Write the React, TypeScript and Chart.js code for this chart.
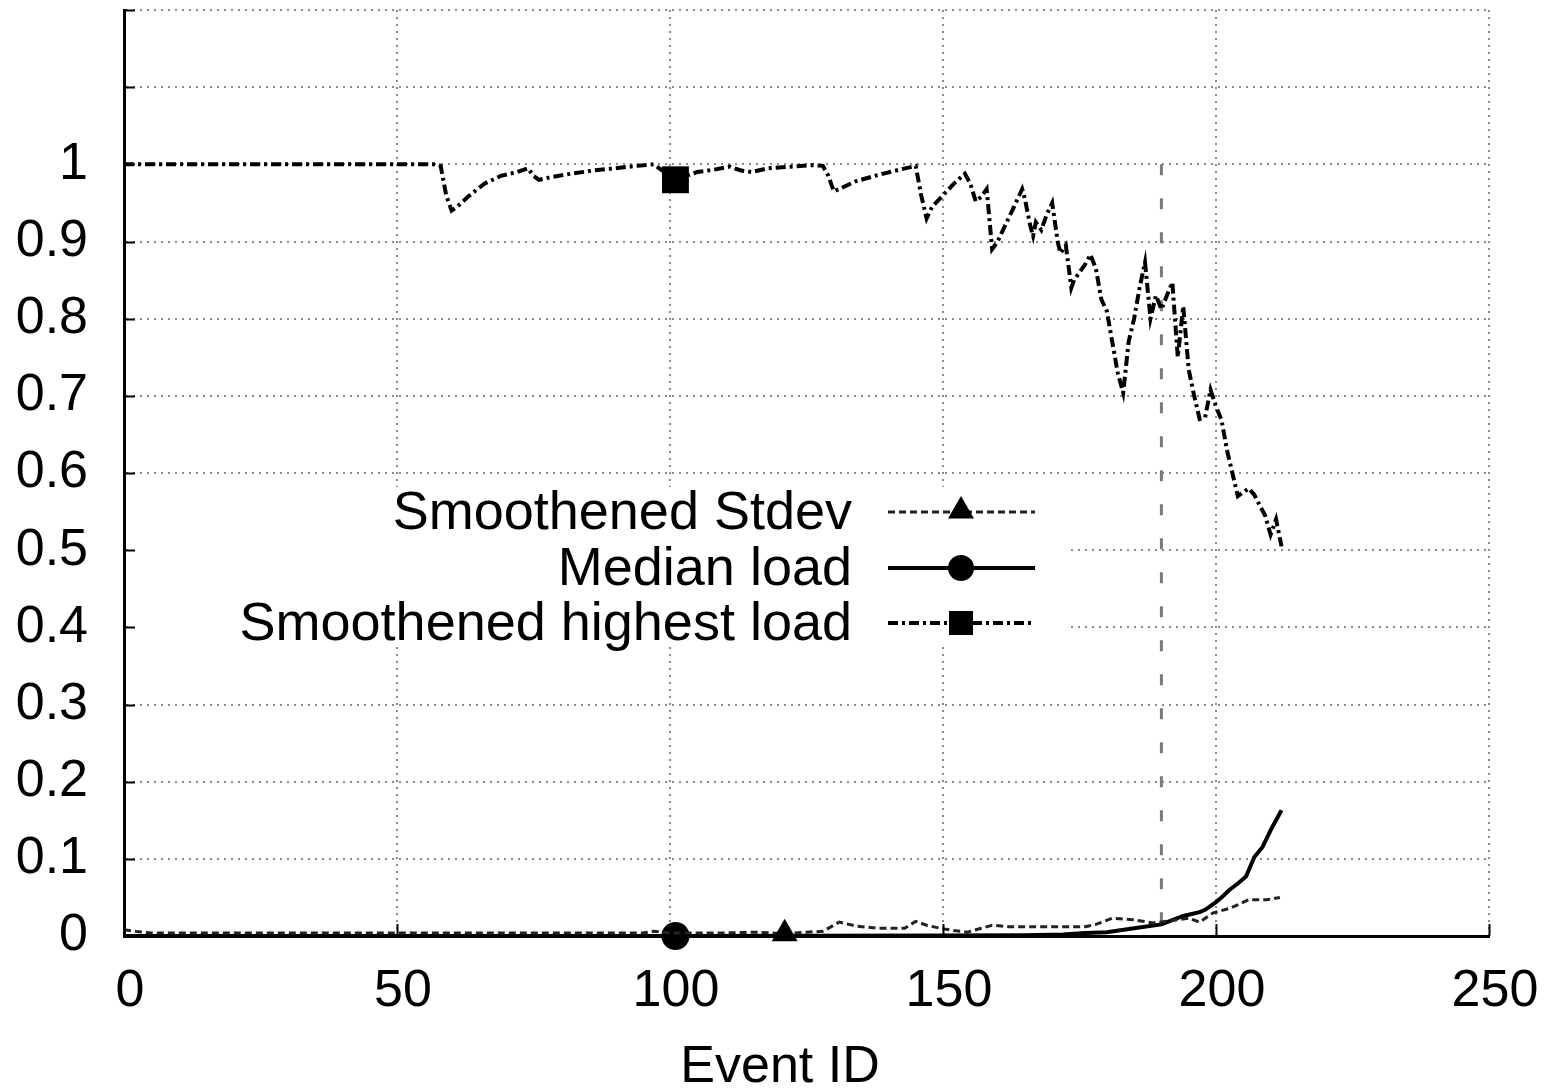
import React, { useEffect, useRef } from "react";
import { Chart, registerables } from "chart.js";

Chart.register(...registerables);

// ---- data ----
const seriesLabels = ["Smoothened Stdev", "Median load", "Smoothened highest load"];
const xAxisTitle = "Event ID";
const xTickValues = [0, 50, 100, 150, 200, 250];
const yTickMaxLabelled = 1;

const stdevLoad: [number, number][] = [
  [0, 0.008], [2, 0.006], [5, 0.004], [10, 0.004], [30, 0.004], [60, 0.004], [80, 0.004],
  [95, 0.004], [97, 0.006], [100, 0.004], [110, 0.004], [116, 0.005], [121, 0.003],
  [125, 0.005], [128, 0.006], [130, 0.014], [131, 0.018], [134, 0.013], [138, 0.01],
  [143, 0.01], [145, 0.019], [147, 0.014], [149.5, 0.01], [152, 0.007], [154.5, 0.005],
  [157, 0.01], [159, 0.014], [162, 0.012], [166.5, 0.012], [170, 0.012], [176, 0.012],
  [178, 0.015], [181, 0.023], [184.8, 0.021], [188.5, 0.017], [192, 0.02], [195, 0.023],
  [197, 0.018], [199.5, 0.03], [202.6, 0.036], [206, 0.047], [209.3, 0.047], [211.7, 0.05],
];
const stdevMarkerX = 121;

const medianLoad: [number, number][] = [
  [0, 0], [50, 0], [101, 0], [150, 0.0005], [165, 0.001], [172, 0.002], [176, 0.004],
  [180, 0.005], [185, 0.01], [190, 0.015], [194, 0.026], [197, 0.031], [198, 0.034],
  [200, 0.044], [201, 0.05], [202.5, 0.06], [204, 0.068], [205.5, 0.077], [207, 0.102],
  [208.5, 0.115], [210, 0.137], [211, 0.15], [212, 0.163],
];
const medianMarkerX = 101;

const highestLoad: [number, number][] = [
  [0, 1], [10, 1], [20, 1], [30, 1], [40, 1], [50, 1], [57, 1], [58, 0.998], [59, 0.96],
  [60, 0.94], [61, 0.945], [63, 0.958], [66, 0.975], [69, 0.985], [72, 0.99], [74, 0.995],
  [75, 0.985], [76, 0.98], [78, 0.983], [82, 0.988], [86, 0.992], [90, 0.995], [94, 0.998],
  [97, 1.0], [99, 0.99], [101, 0.98], [103, 0.985], [105, 0.99], [108, 0.993], [111, 0.997],
  [113, 0.992], [115, 0.99], [118, 0.995], [122, 0.997], [126, 0.999], [128, 0.998],
  [129, 0.985], [130, 0.965], [131, 0.968], [134, 0.978], [138, 0.986], [142, 0.993],
  [145, 0.998], [146, 0.96], [147, 0.93], [148, 0.945], [150, 0.96], [152, 0.975],
  [154, 0.988], [155, 0.975], [156, 0.952], [157, 0.958], [158, 0.968], [159, 0.89],
  [160, 0.9], [161, 0.915], [163, 0.945], [164.5, 0.968], [165, 0.955], [166, 0.92],
  [166.5, 0.907], [167, 0.925], [168, 0.915], [169, 0.935], [170, 0.95], [171, 0.9],
  [171.5, 0.885], [172.5, 0.895], [173.5, 0.84], [174, 0.85], [175, 0.86], [176, 0.87],
  [177, 0.883], [178, 0.865], [179, 0.825], [180, 0.81], [181, 0.77], [182, 0.73],
  [183, 0.704], [184, 0.77], [185, 0.8], [186, 0.84], [187, 0.873], [188, 0.8], [189, 0.83],
  [190, 0.812], [191, 0.83], [192, 0.847], [193, 0.75], [194, 0.816], [195, 0.734],
  [196, 0.7], [197, 0.67], [198, 0.672], [199, 0.708], [200, 0.686], [201, 0.669],
  [202, 0.63], [203, 0.6], [204, 0.57], [205, 0.575], [206, 0.58], [207, 0.572],
  [208, 0.558], [209, 0.545], [210, 0.52], [211, 0.54], [212, 0.505],
];
const highestMarkerX = 101;

const eventMarkerLine: [number, number][] = [[190, 1], [190, 0]];

// ---- styles ----
const FONT = '"Liberation Sans", Arial, Helvetica, sans-serif';
const GRID_COLOR = "#8a8a8a";

const toPoints = (arr: [number, number][]) => arr.map(([x, y]) => ({ x, y }));
const markerRadius = (arr: [number, number][], mx: number, r: number) => {
  const idx = arr.findIndex(([x]) => x === mx);
  return (c: any) => (c.dataIndex === idx ? r : 0);
};

function drawMarker(ctx: CanvasRenderingContext2D, style: string, x: number, y: number, r: number) {
  ctx.beginPath();
  if (style === "triangle") {
    ctx.moveTo(x, y - r);
    ctx.lineTo(x + r * 0.866, y + r * 0.5);
    ctx.lineTo(x - r * 0.866, y + r * 0.5);
    ctx.closePath();
  } else if (style === "circle") {
    ctx.arc(x, y, r, 0, Math.PI * 2);
  } else {
    const s = r * Math.SQRT1_2;
    ctx.rect(x - s, y - s, 2 * s, 2 * s);
  }
  ctx.fill();
}

const legendPlugin = {
  id: "gnuLegend",
  afterDatasetsDraw(chart: any) {
    const ctx: CanvasRenderingContext2D = chart.ctx;
    ctx.save();
    ctx.fillStyle = "#ffffff";
    ctx.fillRect(130, 487, 936, 158);
    const rows = [512, 568, 623];
    const textRight = 852;
    const lineX1 = 888;
    const lineX2 = 1035;
    const markX = 961;
    for (let i = 0; i < 3; i++) {
      const ds = chart.data.datasets[i];
      const y = rows[i];
      ctx.fillStyle = "#000";
      ctx.font = `54px ${FONT}`;
      ctx.textAlign = "right";
      ctx.textBaseline = "middle";
      ctx.fillText(ds.label, textRight, y + 2);
      ctx.strokeStyle = ds.borderColor;
      ctx.lineWidth = ds.borderWidth;
      ctx.setLineDash(ds.borderDash || []);
      ctx.beginPath();
      ctx.moveTo(lineX1, y);
      ctx.lineTo(lineX2, y);
      ctx.stroke();
      ctx.setLineDash([]);
      ctx.fillStyle = "#000";
      drawMarker(ctx, ds.pointStyle, markX, y - (ds.pointStyle === "triangle" ? 1 : 0), ds.legendMarkerRadius);
    }
    ctx.restore();
  },
  afterDraw(chart: any) {
    const ctx: CanvasRenderingContext2D = chart.ctx;
    const { left, bottom } = chart.chartArea;
    const xs = chart.scales.x;
    const ys = chart.scales.y;
    ctx.save();
    ctx.strokeStyle = "#000";
    ctx.lineWidth = 2;
    ys.ticks.forEach((t: any) => {
      const py = Math.round(ys.getPixelForValue(t.value)) + 0.5;
      ctx.beginPath();
      ctx.moveTo(left, py);
      ctx.lineTo(left + 11, py);
      ctx.stroke();
    });
    xs.ticks.forEach((t: any) => {
      const px = Math.round(xs.getPixelForValue(t.value)) + 0.5;
      ctx.beginPath();
      ctx.moveTo(px, bottom);
      ctx.lineTo(px, bottom - 12);
      ctx.stroke();
    });
    ctx.fillStyle = "#000";
    ctx.font = `52px ${FONT}`;
    ctx.textAlign = "center";
    ctx.textBaseline = "middle";
    ctx.fillText(xAxisTitle, 780, 1068);
    ctx.restore();
  },
};

export default function App() {
  const ref = useRef<HTMLCanvasElement | null>(null);

  useEffect(() => {
    if (!ref.current) return;
    const chart = new Chart(ref.current, {
      type: "line",
      data: {
        datasets: [
          {
            label: seriesLabels[0],
            data: toPoints(stdevLoad),
            borderColor: "#222",
            borderWidth: 3,
            borderDash: [7, 4],
            pointStyle: "triangle",
            pointRadius: markerRadius(stdevLoad, stdevMarkerX, 15),
            pointBackgroundColor: "#000",
            pointBorderWidth: 0,
            legendMarkerRadius: 15,
            tension: 0,
            clip: false,
          } as any,
          {
            label: seriesLabels[1],
            data: toPoints(medianLoad),
            borderColor: "#000",
            borderWidth: 4,
            pointStyle: "circle",
            pointRadius: markerRadius(medianLoad, medianMarkerX, 14),
            pointBackgroundColor: "#000",
            pointBorderWidth: 0,
            legendMarkerRadius: 13,
            tension: 0,
            clip: false,
          } as any,
          {
            label: seriesLabels[2],
            data: toPoints(highestLoad),
            borderColor: "#000",
            borderWidth: 4,
            borderDash: [10, 4, 3, 4],
            pointStyle: "rect",
            pointRadius: markerRadius(highestLoad, highestMarkerX, 19),
            pointBackgroundColor: "#000",
            pointBorderWidth: 0,
            legendMarkerRadius: 17,
            tension: 0,
            clip: false,
          } as any,
          {
            label: "",
            data: toPoints(eventMarkerLine),
            borderColor: "#7a7a7a",
            borderWidth: 3,
            borderDash: [11, 23],
            pointRadius: 0,
            tension: 0,
            clip: false,
          } as any,
        ],
      },
      options: {
        animation: false,
        responsive: false,
        devicePixelRatio: 1,
        layout: { padding: { top: 10, right: 66, left: 0, bottom: 0 } },
        plugins: {
          legend: { display: false },
          tooltip: { enabled: false },
        },
        scales: {
          x: {
            type: "linear",
            min: 0,
            max: 250,
            afterBuildTicks: (s: any) => {
              s.ticks = xTickValues.map((v) => ({ value: v }));
            },
            afterFit: (s: any) => {
              s.height = 155;
              s.paddingLeft = 0;
              s.paddingRight = 0;
            },
            ticks: {
              color: "#000",
              font: { family: FONT, size: 52 },
              padding: 24,
              labelOffset: 6,
              maxRotation: 0,
              autoSkip: false,
              callback: (v: any) => String(v),
            },
            grid: {
              color: (c: any) => (c.tick && c.tick.value === 0 ? "rgba(0,0,0,0)" : GRID_COLOR),
              lineWidth: 2,
              drawTicks: false,
            },
            border: { display: true, color: "#000", width: 3, dash: [2, 5] },
          },
          y: {
            type: "linear",
            min: 0,
            max: 1.2,
            afterFit: (s: any) => {
              s.width = 124;
              s.paddingTop = 0;
              s.paddingBottom = 0;
            },
            ticks: {
              stepSize: 0.1,
              color: "#000",
              font: { family: FONT, size: 52 },
              padding: 36,
              autoSkip: false,
              callback: (v: any) => {
                const n = Number(Number(v).toFixed(1));
                return n > yTickMaxLabelled + 1e-9 ? "" : String(n);
              },
            },
            grid: {
              color: (c: any) => (c.tick && Math.abs(c.tick.value) < 1e-9 ? "rgba(0,0,0,0)" : GRID_COLOR),
              lineWidth: 2,
              drawTicks: false,
            },
            border: { display: true, color: "#000", width: 3, dash: [2, 5] },
          },
        },
      } as any,
      plugins: [legendPlugin],
    });
    return () => chart.destroy();
  }, []);

  return (
    <div style={{ position: "absolute", left: 0, top: 0, width: 1555, height: 1091, background: "#fff" }}>
      <canvas ref={ref} width={1555} height={1091} style={{ display: "block" }} />
    </div>
  );
}
